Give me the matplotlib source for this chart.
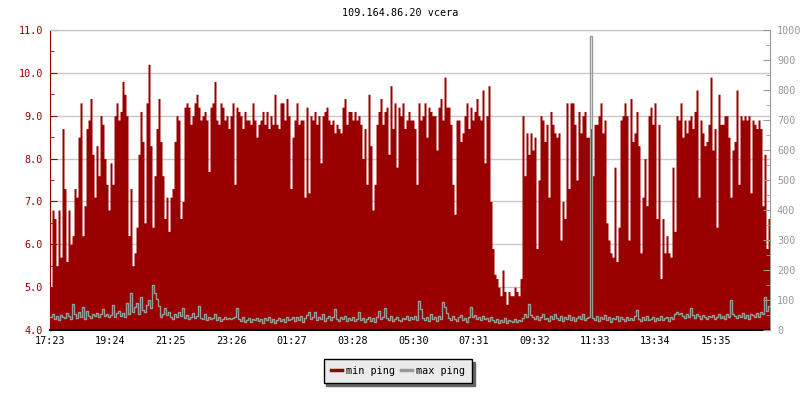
import numpy as np
import matplotlib
matplotlib.use("Agg")
import matplotlib.pyplot as plt
from matplotlib.lines import Line2D
from matplotlib.ticker import MultipleLocator, FormatStrFormatter

plt.rcParams['font.family'] = ['DejaVu Sans Mono']
plt.rcParams['font.size'] = 7.3

# DATA

title = "109.164.86.20 vcera"
time_labels = ["17:23", "19:24", "21:25", "23:26", "01:27", "03:28",
               "05:30", "07:31", "09:32", "11:33", "13:34", "15:35"]
sample_step = 4  # minutes between samples, first sample at 17:23

# min ping (ms, left axis), one row = 2 hours
min_ping = [
    5.0, 6.8, 6.6, 5.5, 6.8, 5.7, 8.7, 7.3, 5.6, 6.8, 6.0, 6.2, 7.3, 7.1, 8.5, 9.3, 6.2, 6.9, 8.7, 8.9, 9.4, 8.1, 7.1, 8.3, 7.6, 9.0, 8.8, 8.0, 7.4, 6.8,
    7.9, 7.4, 9.0, 9.3, 8.9, 9.1, 9.8, 9.5, 9.0, 6.2, 7.3, 5.5, 5.8, 6.4, 8.1, 9.1, 8.4, 6.5, 9.3, 10.2, 8.3, 6.4, 7.6, 8.7, 9.4, 8.4, 7.6, 6.6, 7.1, 6.3,
    7.1, 7.3, 8.4, 9.0, 8.9, 6.6, 7.0, 9.2, 9.3, 9.2, 8.8, 9.0, 9.3, 9.5, 9.2, 8.9, 9.0, 9.1, 8.9, 7.7, 9.2, 9.3, 9.8, 8.9, 8.8, 9.3, 9.2, 8.9, 9.0, 8.7,
    9.0, 9.3, 7.4, 9.2, 9.1, 9.0, 8.7, 9.1, 8.9, 8.9, 8.8, 9.3, 8.9, 8.5, 8.8, 8.9, 9.1, 8.8, 9.1, 8.7, 9.0, 8.8, 9.5, 8.8, 8.7, 9.3, 9.3, 8.9, 9.4, 9.0,
    7.3, 8.5, 8.9, 9.3, 8.8, 8.9, 8.9, 7.1, 9.2, 7.2, 9.0, 8.9, 9.1, 8.8, 9.0, 7.9, 9.0, 9.1, 9.2, 8.9, 8.8, 8.9, 8.6, 8.8, 8.7, 8.6, 9.2, 9.4, 8.8, 9.1,
    9.1, 8.9, 9.1, 8.9, 9.0, 8.8, 8.0, 8.7, 7.4, 9.5, 8.3, 6.8, 7.4, 8.8, 9.1, 9.4, 8.8, 9.1, 9.2, 8.1, 9.7, 8.7, 9.3, 7.8, 9.2, 9.0, 9.3, 8.7, 8.9, 9.1,
    8.9, 8.9, 8.7, 7.4, 9.3, 8.9, 9.0, 9.3, 8.5, 9.2, 9.1, 9.0, 9.0, 8.2, 9.2, 9.4, 8.9, 9.9, 9.2, 9.2, 8.8, 7.4, 6.7, 8.9, 8.9, 8.4, 8.6, 9.0, 9.3, 8.7,
    9.2, 8.9, 9.1, 9.4, 9.0, 8.9, 9.6, 7.9, 9.0, 9.7, 7.0, 5.9, 5.3, 5.2, 5.0, 4.8, 5.4, 4.9, 4.6, 4.9, 4.8, 4.8, 5.0, 4.9, 4.8, 5.2, 9.0, 7.6, 8.6, 8.1,
    8.6, 8.2, 8.5, 5.9, 7.5, 9.0, 8.9, 8.4, 8.8, 7.1, 9.1, 8.8, 8.6, 8.5, 8.6, 6.1, 7.0, 6.6, 9.3, 7.3, 9.3, 9.3, 8.8, 7.5, 9.1, 8.6, 9.0, 9.1, 8.5, 8.5,
    8.7, 7.6, 8.8, 8.8, 9.0, 9.3, 8.6, 8.9, 6.5, 6.1, 5.8, 5.7, 7.8, 5.6, 6.4, 8.9, 9.0, 9.3, 9.0, 6.1, 9.4, 8.4, 8.6, 9.1, 8.3, 5.8, 7.1, 8.0, 6.9, 9.0,
    9.2, 8.8, 9.3, 6.6, 8.8, 5.2, 6.6, 5.8, 6.2, 5.8, 5.7, 7.8, 6.3, 9.0, 8.9, 9.3, 8.5, 8.9, 8.6, 8.9, 9.0, 8.7, 9.1, 9.6, 7.1, 8.9, 8.6, 8.3, 8.4, 8.8,
    9.9, 8.2, 8.7, 6.4, 9.5, 8.8, 8.8, 9.0, 9.0, 8.5, 7.1, 8.2, 8.4, 9.6, 7.4, 9.0, 8.9, 9.0, 8.9, 9.0, 7.2, 8.9, 8.8, 8.7, 8.9, 8.7, 6.9, 8.1, 5.9, 6.6,
]

# max ping (ms, right axis)
max_ping = [
    42, 55, 38, 46, 35, 50, 44, 39, 58, 47, 36, 88, 52, 41, 60, 45, 78, 38, 62, 48, 40, 55, 46, 58, 43, 52, 70, 47, 55, 44,
    50, 83, 45, 56, 62, 48, 58, 44, 90, 52, 122, 60, 78, 90, 55, 109, 68, 60, 83, 100, 75, 150, 122, 105, 80, 45, 52, 72, 50, 60,
    45, 38, 55, 42, 60, 48, 72, 40, 50, 36, 44, 58, 39, 47, 80, 41, 36, 52, 33, 45, 38, 40, 55, 34, 42, 30, 38, 44, 36, 40,
    36, 40, 44, 72, 38, 30, 42, 28, 35, 40, 26, 38, 33, 41, 30, 36, 24, 39, 32, 44, 28, 37, 25, 34, 40, 30, 38, 27, 42, 33,
    38, 45, 30, 42, 35, 48, 28, 40, 50, 61, 36, 44, 61, 33, 45, 38, 52, 30, 41, 47, 35, 43, 69, 38, 29, 44, 36, 48, 31, 40,
    35, 42, 30, 38, 59, 33, 40, 27, 36, 44, 31, 39, 28, 42, 64, 37, 45, 72, 40, 33, 46, 30, 38, 43, 35, 29, 41, 36, 48, 34,
    42, 36, 48, 33, 98, 69, 40, 35, 45, 30, 52, 38, 44, 31, 47, 36, 92, 78, 56, 40, 34, 46, 38, 30, 43, 50, 35, 41, 28, 45,
    76, 45, 50, 38, 42, 33, 47, 36, 40, 30, 44, 35, 28, 38, 24, 33, 27, 39, 22, 35, 30, 26, 37, 28, 34, 31, 40, 55, 45, 87,
    50, 42, 36, 48, 33, 45, 55, 38, 41, 30, 47, 36, 52, 40, 34, 46, 31, 43, 38, 50, 35, 44, 29, 41, 48, 36, 53, 33, 40, 45,
    980, 40, 35, 47, 30, 42, 38, 51, 33, 45, 28, 40, 36, 48, 31, 43, 37, 29, 44, 35, 40, 32, 46, 68, 38, 30, 42, 35, 47, 33,
    38, 44, 30, 41, 35, 48, 33, 39, 45, 31, 42, 36, 55, 60, 52, 58, 47, 40, 53, 44, 74, 50, 41, 55, 46, 38, 50, 43, 36, 48,
    42, 50, 36, 45, 55, 40, 48, 38, 52, 44, 100, 55, 47, 39, 51, 43, 56, 41, 49, 37, 53, 50, 45, 58, 42, 60, 55, 111, 62, 80,
]

RED = "#990000"
GREY = "#999999"


def _minutes_since(label, start):
    h, m = map(int, label.split(":"))
    h0, m0 = map(int, start.split(":"))
    return ((h * 60 + m) - (h0 * 60 + m0)) % 1440


# MAIN

t = np.arange(len(min_ping)) * sample_step
t_edges = np.append(t, t[-1] + sample_step)
mins = np.append(min_ping, min_ping[-1])
maxs = np.append(max_ping, max_ping[-1])

fig = plt.figure(figsize=(8, 4), dpi=100)
ax = fig.add_axes([50 / 800, 70 / 400, 720 / 800, 300 / 400])
ax2 = ax.twinx()

ax.fill_between(t_edges, 4.0, mins, step='post', color=RED, linewidth=0, zorder=1)
ax2.step(t_edges, maxs, where='post', color=GREY, linewidth=1)

ax.set_xlim(0, t_edges[-1])
ax.set_ylim(4.0, 11.0)
ax2.set_ylim(0, 1000)

# left axis
ax.yaxis.set_major_locator(MultipleLocator(1.0))
ax.yaxis.set_minor_locator(MultipleLocator(0.5))
ax.yaxis.set_major_formatter(FormatStrFormatter('%.1f'))
ax.tick_params(axis='y', which='both', direction='in', colors=RED, pad=5)
ax.tick_params(axis='y', which='major', length=5)
ax.tick_params(axis='y', which='minor', length=3)
ax.set_axisbelow(True)
ax.yaxis.grid(True, color='#c8c8c8', linewidth=1)

# bottom axis
ax.set_xticks([_minutes_since(l, time_labels[0]) for l in time_labels])
ax.set_xticklabels(time_labels)
ax.tick_params(axis='x', direction='in', length=5, color='black', pad=4)

# right axis
ax2.yaxis.set_major_locator(MultipleLocator(100))
ax2.yaxis.set_minor_locator(MultipleLocator(50))
ax2.tick_params(axis='y', which='both', direction='in', colors=GREY, pad=5)
ax2.tick_params(axis='y', which='major', length=5)
ax2.tick_params(axis='y', which='minor', length=3)

ax.spines['left'].set_color(RED)
ax.spines['top'].set_color('#c0c0c0')
ax.spines['bottom'].set_color('black')
ax.spines['bottom'].set_linewidth(1.5)
ax.spines['right'].set_visible(False)
for s in ['left', 'top', 'bottom']:
    ax2.spines[s].set_visible(False)
ax2.spines['right'].set_color(GREY)

fig.text(0.5, 1 - 13 / 400, title, ha='center', va='center')

handles = [Line2D([], [], color=RED, linewidth=2.5),
           Line2D([], [], color=GREY, linewidth=2.5)]
leg = fig.legend(handles, ["min ping", "max ping"], loc='center',
                 bbox_to_anchor=(398 / 800, 1 - 371 / 400), ncol=2,
                 frameon=True, fancybox=False, shadow={'color': '#666666', 'alpha': 1},
                 handlelength=1.1, handletextpad=0.4, columnspacing=0.6,
                 borderpad=0.7)
leg.get_frame().set_facecolor('#ebebeb')
leg.get_frame().set_edgecolor('black')
leg.get_frame().set_alpha(1)
leg.get_frame().set_linewidth(1)

plt.savefig("out.png", dpi=100)
